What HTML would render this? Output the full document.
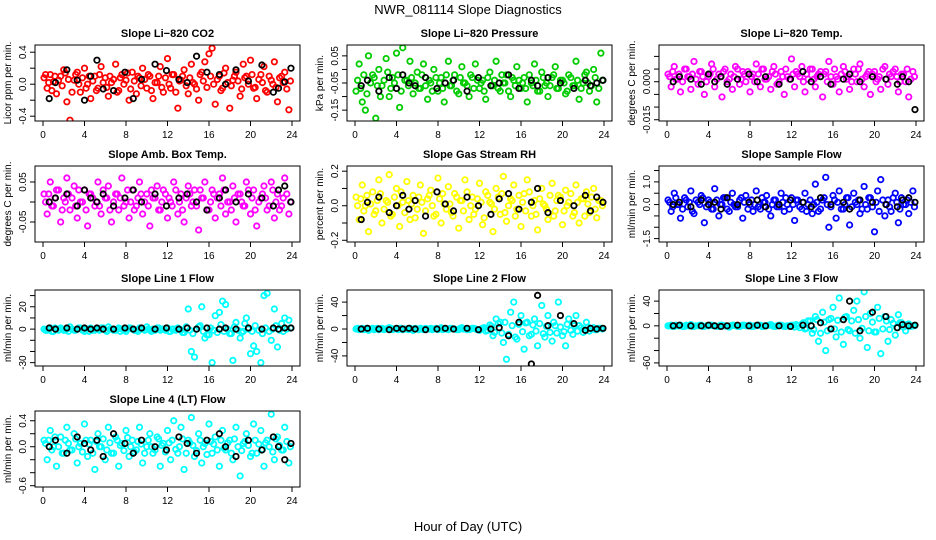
<!DOCTYPE html>
<html><head><meta charset="utf-8"><style>
body{margin:0;background:#fff;}
svg{display:block;font-family:"Liberation Sans",Arial,sans-serif;}
</style></head><body>
<svg id="chart" width="936" height="540" viewBox="0 0 936 540">
<text x="468" y="14" text-anchor="middle" font-size="13">NWR_081114  Slope Diagnostics</text>
<text x="468" y="531" text-anchor="middle" font-size="13">Hour of Day (UTC)</text>
</svg>
<script>
const times=[0.1,0.4,0.7,1.0,1.3,1.7,2.0,2.3,2.6,3.0,3.3,3.6,4.0,4.3,4.6,5.0,5.3,5.6,6.0,6.3,6.6,7.0,7.3,7.6,8.0,8.3,8.6,9.0,9.3,9.6,10.0,10.3,10.6,11.0,11.3,11.6,12.0,12.3,12.6,13.0,13.3,13.6,14.0,14.3,14.6,15.0,15.3,15.6,16.0,16.3,16.6,17.0,17.3,17.6,18.0,18.3,18.6,19.0,19.3,19.6,20.0,20.3,20.6,21.0,21.3,21.6,22.0,22.3,22.6,23.0,23.3,23.7];
const times2=[0.25,0.55,0.85,1.15,1.5,1.85,2.15,2.45,2.8,3.15,3.45,3.8,4.15,4.45,4.8,5.15,5.45,5.8,6.15,6.45,6.8,7.15,7.45,7.8,8.15,8.45,8.8,9.15,9.45,9.8,10.15,10.45,10.8,11.15,11.45,11.8,12.15,12.45,12.8,13.15,13.45,13.8,14.15,14.45,14.8,15.15,15.45,15.8,16.15,16.45,16.8,17.15,17.45,17.8,18.15,18.45,18.8,19.15,19.45,19.8,20.15,20.45,20.8,21.15,21.45,21.8,22.15,22.45,22.8,23.15,23.5,23.85];
const blackTimes=[0.6,1.2,2.3,3.3,4.0,4.6,5.2,5.8,6.8,7.9,8.7,9.5,10.8,11.9,13.1,13.9,14.8,15.8,17.0,17.6,18.6,19.8,21.1,22.2,22.7,23.3,23.9];
const xTicks=[0,4,8,12,16,20,24];

const co2=[0.08,-0.05,0.12,0.03,-0.12,0.1,0.18,-0.22,-0.45,0.05,0.15,-0.1,0.2,0.0,-0.18,0.1,-0.05,0.22,0.08,-0.15,0.02,0.25,-0.08,0.12,0.05,-0.2,0.15,-0.12,0.08,0.2,-0.05,0.1,-0.18,0.02,0.22,-0.1,0.32,-0.05,0.12,-0.3,0.05,0.18,-0.12,0.25,0.0,-0.2,0.15,0.28,0.38,0.45,-0.25,0.1,-0.05,0.2,-0.3,0.05,0.15,-0.15,0.25,0.1,0.3,-0.05,-0.18,0.12,0.22,-0.1,0.05,0.28,-0.22,0.1,0.15,-0.32];
const co2b=[0.12,0.02,-0.08,0.1,0.05,-0.02,0.14,0.06,-0.1,0.12,0.0,0.08,-0.05,0.1,0.04,-0.08,0.12,0.02,-0.04,0.1,0.06,-0.1,0.08,0.0,0.14,-0.06,0.04,0.1,-0.02,0.06,0.12,-0.08,0.02,0.1,-0.04,0.08,0.0,0.12,-0.1,0.04,0.1,-0.02,0.08,0.02,-0.06,0.12,0.04,-0.04,0.1,0.0,0.06,-0.08,0.14,0.02,-0.02,0.1,0.04,-0.06,0.08,0.0,0.12,-0.04,0.06,0.02,-0.08,0.1,0.0,-0.04,0.08,0.02,-0.06,0.04];
const co2B=[-0.18,0.02,0.18,0.05,-0.2,0.1,0.3,-0.06,-0.08,0.15,-0.18,0.06,0.25,0.17,0.06,0.02,0.35,0.15,0.12,0.0,0.18,0.04,0.24,-0.1,-0.05,0.03,0.2];
const pres=[-0.08,0.02,-0.12,-0.15,0.05,-0.02,-0.18,0.0,-0.06,0.04,-0.1,-0.03,0.06,-0.14,0.08,-0.04,0.03,-0.09,-0.01,-0.07,0.02,-0.11,-0.05,0.0,-0.08,-0.03,-0.12,0.03,-0.06,-0.02,-0.09,0.01,-0.05,-0.1,-0.03,0.02,-0.07,-0.04,-0.11,-0.01,-0.06,0.03,-0.08,-0.05,-0.02,-0.1,-0.04,0.01,-0.07,-0.03,-0.12,-0.05,0.02,-0.08,-0.01,-0.06,-0.1,-0.03,0.01,-0.07,-0.04,-0.09,-0.02,-0.06,0.03,-0.11,-0.05,-0.01,-0.08,0.0,-0.12,0.06];
const presb=[-0.04,-0.07,-0.02,-0.09,-0.05,-0.03,-0.06,-0.1,-0.04,-0.01,-0.07,-0.05,-0.02,-0.08,-0.04,-0.06,-0.03,-0.05,-0.07,-0.02,-0.06,-0.04,-0.08,-0.03,-0.05,-0.07,-0.02,-0.06,-0.04,-0.08,-0.03,-0.05,-0.06,-0.02,-0.07,-0.04,-0.05,-0.08,-0.03,-0.06,-0.04,-0.07,-0.02,-0.05,-0.08,-0.03,-0.06,-0.04,-0.05,-0.07,-0.02,-0.06,-0.04,-0.08,-0.03,-0.05,-0.06,-0.02,-0.07,-0.04,-0.05,-0.08,-0.03,-0.06,-0.04,-0.07,-0.02,-0.05,-0.06,-0.03,-0.07,-0.04];
const presB=[-0.06,-0.04,-0.08,-0.03,-0.07,-0.02,-0.05,-0.06,-0.03,-0.07,-0.05,-0.04,-0.08,-0.03,-0.06,-0.05,-0.02,-0.07,-0.04,-0.06,-0.03,-0.05,-0.07,-0.04,-0.06,-0.05,-0.04];
const temp=[0.003,-0.002,0.006,0.001,-0.004,0.005,0.002,-0.003,0.008,-0.001,0.004,-0.005,0.002,0.007,-0.002,0.003,-0.006,0.005,0.001,-0.003,0.006,-0.001,0.004,0.0,-0.004,0.003,0.007,-0.002,0.005,0.001,-0.003,0.006,-0.001,0.004,-0.005,0.002,0.009,-0.002,0.003,0.006,-0.004,0.001,0.005,-0.002,0.003,-0.006,0.004,0.008,-0.001,0.002,-0.004,0.006,0.001,-0.003,0.005,0.0,0.007,-0.002,0.003,-0.005,0.004,0.001,-0.003,0.006,-0.001,0.002,0.005,-0.004,0.003,0.0,-0.006,0.004];
const tempb=[0.002,0.004,0.001,0.003,0.0,0.005,0.002,0.003,0.001,0.004,0.002,0.0,0.003,0.005,0.001,0.002,0.004,0.0,0.003,0.002,0.005,0.001,0.003,0.004,0.002,0.0,0.003,0.005,0.001,0.002,0.004,0.003,0.0,0.002,0.005,0.001,0.003,0.004,0.002,0.0,0.003,0.005,0.001,0.002,0.004,0.003,0.0,0.002,0.005,0.001,0.003,0.004,0.002,0.0,0.003,0.005,0.001,0.002,0.004,0.003,0.0,0.002,0.005,0.001,0.003,0.004,0.002,0.0,0.003,0.005,0.001,0.002];
const tempB=[0.0,0.002,0.001,-0.001,0.003,0.0,0.002,-0.001,0.001,0.003,0.0,0.002,-0.001,0.001,0.004,0.0,0.002,-0.001,0.001,0.003,0.0,0.002,0.001,-0.001,0.002,0.0,-0.011];
const box=[0.02,-0.03,0.05,-0.01,0.03,-0.05,0.01,0.06,-0.02,0.04,-0.04,0.0,0.03,-0.06,0.02,-0.01,0.05,-0.03,0.01,0.04,-0.05,0.02,-0.02,0.06,0.0,-0.04,0.03,-0.01,0.05,-0.03,0.02,-0.06,0.01,0.04,-0.02,0.03,-0.04,0.0,0.05,-0.03,0.02,-0.05,0.04,-0.01,0.03,-0.07,0.01,0.05,-0.02,0.03,-0.04,0.02,0.06,-0.03,0.0,0.04,-0.05,0.02,-0.01,0.05,-0.03,0.03,-0.06,0.01,0.04,-0.02,0.05,-0.04,0.02,-0.01,0.06,-0.03];
const boxb=[0.0,0.02,-0.01,0.01,0.03,-0.02,0.0,0.02,0.01,-0.01,0.03,0.0,-0.02,0.02,0.01,0.0,-0.01,0.03,0.01,-0.02,0.0,0.02,0.01,-0.01,0.03,0.0,-0.02,0.01,0.02,0.0,-0.01,0.03,0.01,-0.02,0.0,0.02,0.01,-0.01,0.03,0.0,-0.02,0.01,0.02,0.0,-0.01,0.03,0.01,-0.02,0.0,0.02,0.01,-0.01,0.03,0.0,-0.02,0.01,0.02,0.0,-0.01,0.03,0.01,-0.02,0.0,0.02,0.01,-0.01,0.03,0.0,-0.02,0.01,0.02,0.0];
const boxB=[0.0,0.01,0.02,-0.01,0.03,0.01,0.0,0.02,-0.01,0.01,0.03,0.0,0.02,-0.01,0.01,0.02,0.0,-0.02,0.01,0.03,0.0,0.02,0.01,-0.01,0.03,0.04,0.0];
const rh=[0.05,-0.08,0.12,0.0,-0.15,0.08,-0.03,0.15,-0.1,0.03,0.18,-0.05,0.1,-0.12,0.02,0.14,-0.08,0.06,-0.02,0.12,-0.16,0.04,0.09,-0.06,0.16,-0.1,0.01,0.11,-0.04,0.07,-0.13,0.03,0.15,-0.08,0.05,-0.02,0.13,-0.11,0.08,0.02,-0.15,0.1,-0.05,0.17,-0.09,0.04,0.12,-0.02,-0.12,0.07,0.15,-0.06,0.03,-0.14,0.1,0.0,-0.08,0.13,-0.03,0.06,-0.11,0.09,0.02,-0.06,0.12,-0.1,0.04,0.08,-0.04,0.1,-0.07,0.03];
const rhb=[0.0,0.04,-0.03,0.06,0.01,-0.05,0.03,0.07,-0.02,0.02,-0.06,0.05,0.0,0.08,-0.04,0.03,0.01,-0.07,0.05,0.02,-0.03,0.06,0.0,-0.05,0.04,0.07,-0.02,0.01,-0.06,0.05,0.03,-0.03,0.08,0.0,-0.05,0.04,0.02,-0.07,0.06,0.01,-0.02,0.05,0.07,-0.04,0.0,0.03,-0.06,0.06,0.02,-0.03,0.08,0.0,-0.05,0.04,0.01,-0.02,0.06,-0.06,0.03,0.05,-0.03,0.0,0.07,-0.04,0.02,0.04,-0.06,0.01,0.05,-0.02,0.03,0.0];
const rhB=[-0.08,0.02,0.05,-0.04,0.0,0.06,-0.02,0.03,-0.06,0.08,0.01,-0.03,0.05,0.0,-0.05,0.04,0.07,-0.02,0.02,0.1,-0.04,0.03,0.0,0.06,-0.03,0.05,0.02];
const flow=[0.2,-0.3,0.5,0.0,-0.6,0.3,-0.1,0.6,-0.4,0.1,0.4,-0.8,0.2,-0.2,0.7,-0.5,0.0,0.3,-0.3,0.5,-0.1,0.2,-0.6,0.4,0.0,-0.3,0.6,-0.2,0.1,0.4,-0.5,0.2,-0.1,0.5,-0.3,0.0,0.3,-0.7,0.2,-0.2,0.5,0.0,-0.4,0.9,-0.3,0.2,1.2,-1.0,0.4,-0.6,0.6,-0.2,0.3,-0.9,0.5,0.0,-0.4,0.8,-0.2,0.3,-1.2,0.6,1.1,-0.5,0.2,-0.3,0.5,-0.8,0.3,0.0,-0.4,0.6];
const flowb=[0.1,-0.1,0.3,0.0,-0.2,0.2,0.1,-0.3,0.2,0.0,0.3,-0.1,0.1,-0.2,0.2,0.0,0.3,-0.2,0.1,0.0,-0.1,0.3,0.1,-0.2,0.2,0.0,-0.1,0.3,0.1,-0.2,0.0,0.2,-0.1,0.1,0.3,-0.2,0.0,0.2,-0.1,0.1,-0.3,0.2,0.0,0.1,-0.2,0.3,0.0,-0.1,0.2,0.1,-0.2,0.0,0.3,-0.1,0.1,0.2,-0.2,0.0,0.3,-0.1,0.1,-0.3,0.2,0.0,-0.1,0.3,0.1,-0.2,0.0,0.2,0.1,-0.1];
const flowB=[0.0,0.1,-0.1,0.2,0.0,0.1,-0.2,0.3,0.0,0.1,0.2,-0.1,0.0,0.2,0.1,-0.1,0.3,0.0,0.1,-0.2,0.2,0.1,0.0,-0.1,0.2,0.3,0.1];
const l1=[0,-1,1,-2,0,1,-1,0,2,-1,0,1,-2,0,1,-1,0,1,-1,2,0,-1,1,0,-2,1,0,-1,1,0,2,-1,0,1,-1,0,1,-2,0,1,-1,-3,18,-20,-25,2,20,-8,-5,-30,12,15,25,22,-4,-28,6,-8,-2,10,-22,-15,-20,-30,30,32,-10,18,-16,5,10,8];
const l1b=[-1,0,-2,1,-1,0,-1,-2,0,-1,1,-1,0,-2,-1,0,-1,1,-2,0,-1,0,-2,-1,0,1,-1,-2,0,-1,0,-2,-1,1,0,-1,-2,0,-1,0,-3,2,-1,-4,0,3,-2,-5,1,-1,-3,4,-2,0,-4,2,-1,-3,5,0,-2,3,-1,-4,1,-2,0,3,-1,-2,0,1];
const l1B=[1,0,1,0,1,0,1,0,0,1,0,1,0,1,0,1,0,1,0,1,0,1,0,1,0,1,1];
const l2=[0,-1,1,0,-2,1,0,-1,1,0,2,-1,0,1,-1,0,1,-2,0,1,-1,0,1,0,-1,2,0,-1,1,0,-1,2,0,-1,1,0,-2,1,-3,6,-10,15,10,-20,-45,25,40,-15,20,-30,10,-8,15,-25,35,-12,20,-18,5,40,-10,-25,15,-8,20,5,-5,10,-3,2,-1,1];
const l2b=[1,0,-1,1,0,-1,1,0,-1,0,1,0,-1,1,0,-1,0,1,-1,0,1,0,-1,1,0,-1,0,1,0,-1,1,0,-1,0,1,-1,0,2,-2,4,-5,8,-6,10,-8,5,-12,7,-4,9,-10,6,-3,8,-7,4,-5,10,-6,3,-4,7,-2,5,-3,2,-1,3,0,-1,1,0];
const l2B=[0,1,0,-1,1,0,1,0,-1,0,1,0,1,-1,0,2,-10,10,-52,50,5,20,8,-2,1,0,1];
const l3=[0,1,-1,0,1,-1,0,2,-1,0,1,-1,0,1,0,-1,1,0,-2,1,0,-1,1,0,1,-1,0,1,-1,0,2,-1,0,1,-1,0,1,-2,0,3,-5,8,-12,15,-25,22,-40,10,30,-18,45,-30,15,-8,25,40,-20,55,-35,20,-10,30,-45,15,-25,10,-15,18,5,-8,3,0];
const l3b=[0,-1,1,0,-1,1,0,-1,0,1,-1,0,1,0,-1,1,0,-1,0,1,-1,0,1,0,-1,0,1,-1,0,1,0,-1,1,0,-1,0,1,2,-3,5,-4,8,-6,10,-12,6,-8,12,-5,9,-10,14,-6,8,-12,10,-4,15,-8,6,-10,12,-5,8,-6,4,-3,5,-2,2,-1,0];
const l3B=[0,1,0,0,1,0,-1,0,1,0,1,0,0,-1,1,0,5,-5,10,40,-8,22,15,-3,2,0,1];
const l4=[0.1,-0.2,0.25,0.0,-0.3,0.15,-0.1,0.3,-0.05,0.2,-0.25,0.05,0.35,-0.15,0.1,-0.35,0.2,0.0,-0.2,0.3,-0.1,0.15,-0.3,0.05,0.25,-0.15,0.1,-0.05,0.3,-0.25,0.0,0.2,-0.1,0.15,-0.3,0.05,0.25,-0.2,0.4,-0.1,0.3,-0.35,0.1,0.45,-0.15,0.2,-0.25,0.05,0.35,-0.1,0.15,-0.3,0.25,-0.05,0.1,-0.2,0.3,-0.45,0.05,0.2,-0.15,0.35,-0.1,0.25,-0.3,0.1,0.5,-0.2,0.15,-0.05,0.3,-0.25];
const l4b=[0.05,0.1,-0.05,0.15,0.0,-0.1,0.1,0.05,-0.05,0.12,0.0,-0.08,0.1,0.04,-0.1,0.08,0.0,0.12,-0.05,0.06,-0.1,0.1,0.02,-0.06,0.14,0.0,-0.08,0.08,0.04,-0.1,0.1,0.0,-0.05,0.12,0.02,-0.08,0.06,0.1,-0.04,0.0,0.12,-0.1,0.06,0.02,-0.06,0.1,0.0,-0.12,0.08,0.04,-0.05,0.1,-0.02,0.06,-0.1,0.12,0.0,-0.06,0.08,0.02,-0.1,0.1,0.04,-0.04,0.06,0.0,-0.08,0.12,0.02,-0.05,0.08,0.0];
const l4B=[0.0,0.1,-0.1,0.15,0.05,-0.05,0.1,-0.15,0.2,0.05,-0.1,0.1,0.0,-0.05,0.15,0.05,-0.1,0.1,0.2,0.0,-0.15,0.1,-0.05,0.15,0.0,-0.2,0.05];

const panels=[
 {key:"co2",title:"Slope Li−820 CO2",ylab:"Licor ppm per min.",col:"#ff0000",v:co2,v2:co2b,b:co2B,ylim:[-0.46,0.49],ticks:[-0.4,-0.2,0,0.2,0.4],labels:["-0.4","","0.0","","0.4"]},
 {key:"pressure",title:"Slope Li−820 Pressure",ylab:"kPa per min.",col:"#00cc00",v:pres,v2:presb,b:presB,ylim:[-0.19,0.09],ticks:[-0.15,-0.1,-0.05,0,0.05],labels:["-0.15","","-0.05","","0.05"]},
 {key:"temp",title:"Slope Li−820 Temp.",ylab:"degrees C per min.",col:"#ff00ff",v:temp,v2:tempb,b:tempB,ylim:[-0.0155,0.0145],ticks:[-0.015,-0.01,-0.005,0,0.005,0.01],labels:["-0.015","","","0.000","",""]},
 {key:"ambbox",title:"Slope Amb. Box Temp.",ylab:"degrees C per min.",col:"#ff00ff",v:box,v2:boxb,b:boxB,ylim:[-0.1,0.09],ticks:[-0.05,0,0.05],labels:["-0.05","","0.05"]},
 {key:"rh",title:"Slope Gas Stream RH",ylab:"percent per min.",col:"#ffff00",v:rh,v2:rhb,b:rhB,ylim:[-0.21,0.23],ticks:[-0.2,-0.1,0,0.1,0.2],labels:["-0.2","","0.0","","0.2"]},
 {key:"sampleflow",title:"Slope Sample Flow",ylab:"ml/min per min.",col:"#0000ff",v:flow,v2:flowb,b:flowB,ylim:[-1.65,1.7],ticks:[-1.5,-1,-0.5,0,0.5,1,1.5],labels:["-1.5","","","0.0","","1.0",""]},
 {key:"line1",title:"Slope Line 1 Flow",ylab:"ml/min per min.",col:"#00ffff",v:l1,v2:l1b,b:l1B,ylim:[-33,35],ticks:[-30,-20,-10,0,10,20,30],labels:["-30","","","0","","20",""]},
 {key:"line2",title:"Slope Line 2 Flow",ylab:"ml/min per min.",col:"#00ffff",v:l2,v2:l2b,b:l2B,ylim:[-55,58],ticks:[-40,-20,0,20,40],labels:["-40","","0","","40"]},
 {key:"line3",title:"Slope Line 3 Flow",ylab:"ml/min per min.",col:"#00ffff",v:l3,v2:l3b,b:l3B,ylim:[-65,58],ticks:[-60,-40,-20,0,20,40],labels:["-60","","","0","","40"]},
 {key:"line4",title:"Slope Line 4 (LT) Flow",ylab:"ml/min per min.",col:"#00ffff",v:l4,v2:l4b,b:l4B,ylim:[-0.62,0.55],ticks:[-0.6,-0.4,-0.2,0,0.2,0.4],labels:["-0.6","","","0.0","","0.4"]}
];
const colsX=[35,347,659], rowsY=[45,166,290,411];
const W=265,H=76;
const svg=document.getElementById('chart');
const NS="http://www.w3.org/2000/svg";
function mk(tag,attrs,parent){const e=document.createElementNS(NS,tag);for(const k in attrs)e.setAttribute(k,attrs[k]);parent.appendChild(e);return e;}
panels.forEach((p,i)=>{
 const x0=colsX[i%3], y0=rowsY[Math.floor(i/3)];
 const g=mk('g',{},svg);
 
 
 const xs=t=>x0+8+t/24*(W-16);
 const ys=v=>y0+H-(v-p.ylim[0])/(p.ylim[1]-p.ylim[0])*H;
 const t=mk('text',{x:x0+W/2,y:y0-8,'text-anchor':'middle','font-size':11,'font-weight':'bold'},g);
 t.textContent=p.title;
 
 
 const clip=mk('clipPath',{id:'c'+i},g);
 mk('rect',{x:x0,y:y0,width:W,height:H},clip);
 const pts=mk('g',{'clip-path':'url(#c'+i+')'},g);
 
 
 const n=Math.min(times.length,p.v.length);
 for(let k=0;k<n;k++){
  const c=mk('circle',{cx:xs(times[k]),cy:ys(p.v[k]),r:2.7,fill:'none',stroke:p.col,'stroke-width':1.8},pts);
  
  
 }
 const n2=Math.min(times2.length,p.v2.length);
 for(let k=0;k<n2;k++){
  const c=mk('circle',{cx:xs(times2[k]),cy:ys(p.v2[k]),r:2.7,fill:'none',stroke:p.col,'stroke-width':1.8},pts);
  
  
 }
 const m=Math.min(blackTimes.length,p.b.length);
 for(let k=0;k<m;k++){
  const c=mk('circle',{cx:xs(blackTimes[k]),cy:ys(p.b[k]),r:2.7,fill:'none',stroke:'#000','stroke-width':1.8},pts);
  
  
 }
 const fr=mk('rect',{x:x0,y:y0,width:W,height:H,fill:'none',stroke:'#000','stroke-width':1},g);
 
 
 xTicks.forEach(v=>{
  const X=xs(v);
  mk('line',{x1:X,x2:X,y1:y0+H,y2:y0+H+5,stroke:'#000'},g);
  const tl=mk('text',{x:X,y:y0+H+17,'text-anchor':'middle','font-size':10},g);
  tl.textContent=v;
  
  
 });
 p.ticks.forEach((v,j)=>{
  const Y=ys(v);
  mk('line',{x1:x0-5,x2:x0,y1:Y,y2:Y,stroke:'#000'},g);
  if(p.labels[j]){
   const tl=mk('text',{x:x0-9,y:Y,'text-anchor':'middle','font-size':10,transform:`rotate(-90 ${x0-9} ${Y})`},g);
   tl.textContent=p.labels[j];
   
   
  }
 });
 const yl=mk('text',{x:x0-24,y:y0+H/2,'text-anchor':'middle','font-size':10,transform:`rotate(-90 ${x0-24} ${y0+H/2})`},g);
 yl.textContent=p.ylab;
 
 
});
</script>
</body></html>
